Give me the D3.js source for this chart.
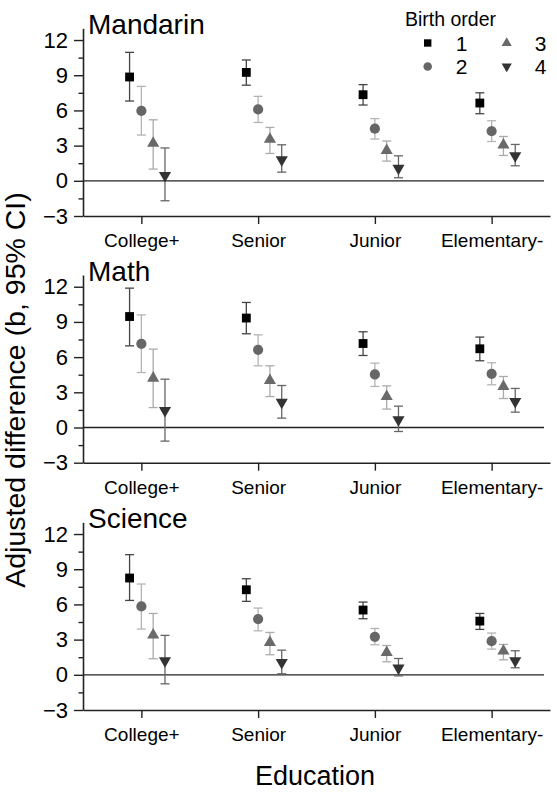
<!DOCTYPE html>
<html>
<head>
<meta charset="utf-8">
<script src="https://cdn.jsdelivr.net/npm/d3@7"></script>
<style>
  body { margin: 0; background: #fff; }
  svg { font-family: "Liberation Sans", Arial, sans-serif; }
</style>
</head>
<body>
<svg id="chart"></svg>
<script>
// data
const subjects = ["Mandarin", "Math", "Science"];
const categories = ["College+", "Senior", "Junior", "Elementary-"];
const birthOrders = ["1", "2", "3", "4"];
const yTicks = [-3, 0, 3, 6, 9, 12];
const yMinorTicks = [-1.5, 1.5, 4.5, 7.5, 10.5];

// rows = birth order 1..4, columns = categories
const mandarinB = [[8.85, 9.24, 7.34, 6.63], [5.97, 6.08, 4.44, 4.24], [3.2, 3.55, 2.59, 3.05], [0.45, 1.8, 1.08, 2.13]];
const mandarinLo = [[6.8, 8.15, 6.46, 5.72], [3.9, 4.97, 3.56, 3.35], [1.0, 2.33, 1.68, 2.16], [-1.7, 0.74, 0.26, 1.28]];
const mandarinHi = [[10.95, 10.3, 8.2, 7.5], [8.05, 7.2, 5.3, 5.12], [5.2, 4.55, 3.39, 3.78], [2.8, 3.07, 2.13, 3.1]];

const mathB = [[9.46, 9.33, 7.16, 6.71], [7.13, 6.62, 4.52, 4.58], [4.21, 4.0, 2.64, 3.5], [1.45, 2.16, 0.66, 2.22]];
const mathLo = [[6.96, 7.99, 6.14, 5.69], [4.69, 5.26, 3.5, 3.64], [1.7, 2.64, 1.57, 2.47], [-1.16, 0.8, -0.34, 1.31]];
const mathHi = [[11.88, 10.66, 8.16, 7.71], [9.6, 7.9, 5.49, 5.52], [6.68, 5.26, 3.55, 4.35], [4.12, 3.58, 1.82, 3.33]];

const scienceB = [[8.25, 7.25, 5.52, 4.58], [5.83, 4.75, 3.24, 2.87], [3.39, 2.76, 1.9, 2.02], [1.19, 1.05, 0.57, 1.19]];
const scienceLo = [[6.34, 6.26, 4.78, 3.87], [3.9, 3.75, 2.56, 2.19], [1.37, 1.71, 1.11, 1.28], [-0.77, 0.09, -0.09, 0.6]];
const scienceHi = [[10.24, 8.19, 6.2, 5.23], [7.74, 5.69, 3.95, 3.56], [5.23, 3.61, 2.5, 2.59], [3.36, 2.1, 1.39, 2.05]];

const panels = [
  { name: subjects[0], b: mandarinB, lo: mandarinLo, hi: mandarinHi },
  { name: subjects[1], b: mathB, lo: mathLo, hi: mathHi },
  { name: subjects[2], b: scienceB, lo: scienceLo, hi: scienceHi },
];

const width = 557, height = 796;
const panelTop = [28.3, 275, 522.3];
const panelH = 187.7;

const markerFill = ["#000", "#666", "#6a6a6a", "#333"];
const barColor = ["#444", "#b4b4b4", "#ababab", "#666"];
const symbols = [
  { type: d3.symbolSquare, size: 78, rot: 0 },
  { type: d3.symbolCircle, size: 82, rot: 0 },
  { type: d3.symbolTriangle, size: 64, rot: 0 },
  { type: d3.symbolTriangle, size: 64, rot: 180 },
];

const svg = d3.select("#chart").attr("width", width).attr("height", height);

const x = d3.scalePoint().domain(categories).range([83, 550]).padding(0.5);
// small offset of each birth order around the category tick
const dx = d3.scaleLinear().domain([0, 3]).range([-11.8, 23.6]);

panels.forEach((p, pi) => {
  const y = d3.scaleLinear().domain([-3, 13]).range([panelTop[pi] + panelH, panelTop[pi]]);
  const g = svg.append("g");

  // zero line
  g.append("line")
    .attr("x1", 83).attr("x2", 544)
    .attr("y1", y(0)).attr("y2", y(0))
    .attr("stroke", "#222").attr("stroke-width", 1.3);

  // y axis
  const yAxis = g.append("g").attr("transform", "translate(83,0)")
    .call(d3.axisLeft(y).tickValues(yTicks).tickSize(9).tickSizeOuter(0).tickPadding(6));
  yAxis.selectAll("text").attr("font-size", 22).attr("fill", "#000").attr("font-family", "Liberation Sans, Arial, sans-serif");
  yAxis.select(".domain").attr("stroke", "#222").attr("stroke-width", 1.6);
  yAxis.selectAll(".tick line").attr("stroke", "#222").attr("stroke-width", 1.4);
  g.append("g").attr("transform", "translate(83,0)")
    .call(d3.axisLeft(y).tickValues(yMinorTicks).tickSize(4.5).tickSizeOuter(0).tickFormat(""))
    .call((s) => s.select(".domain").remove())
    .selectAll(".tick line").attr("stroke", "#222").attr("stroke-width", 1.4);

  // x axis
  const xAxis = g.append("g").attr("transform", `translate(0,${y(-3)})`)
    .call(d3.axisBottom(x).tickSize(8).tickSizeOuter(0).tickPadding(10));
  xAxis.selectAll("text").attr("font-size", 19).attr("fill", "#000").attr("font-family", "Liberation Sans, Arial, sans-serif");
  xAxis.select(".domain").attr("stroke", "#222").attr("stroke-width", 1.6);
  xAxis.selectAll(".tick line").attr("stroke", "#222").attr("stroke-width", 1.4);

  // panel title
  g.append("text")
    .attr("x", 88).attr("y", y(12) - 6)
    .attr("font-size", 28).attr("fill", "#000")
    .text(p.name);

  // error bars, then markers
  birthOrders.forEach((o, si) => {
    const rows = categories.map((c, ci) => ({
      cx: x(c) + dx(si), b: p.b[si][ci], lo: p.lo[si][ci], hi: p.hi[si][ci],
    }));
    const eb = g.append("g").attr("stroke", barColor[si]).attr("stroke-width", 1.3).attr("fill", "none");
    eb.selectAll(".v").data(rows).enter().append("line")
      .attr("x1", (d) => d.cx).attr("x2", (d) => d.cx)
      .attr("y1", (d) => y(d.lo)).attr("y2", (d) => y(d.hi));
    eb.selectAll(".t").data(rows).enter().append("line")
      .attr("x1", (d) => d.cx - 4.5).attr("x2", (d) => d.cx + 4.5)
      .attr("y1", (d) => y(d.hi)).attr("y2", (d) => y(d.hi));
    eb.selectAll(".bt").data(rows).enter().append("line")
      .attr("x1", (d) => d.cx - 4.5).attr("x2", (d) => d.cx + 4.5)
      .attr("y1", (d) => y(d.lo)).attr("y2", (d) => y(d.lo));

    const sym = d3.symbol().type(symbols[si].type).size(symbols[si].size);
    g.selectAll(".m" + si).data(rows).enter().append("path")
      .attr("d", sym)
      .attr("transform", (d) => `translate(${d.cx},${y(d.b)}) rotate(${symbols[si].rot})`)
      .attr("fill", markerFill[si]);
  });
});

// legend
const legend = svg.append("g");
legend.append("text").attr("x", 405).attr("y", 26).attr("font-size", 19.5).attr("fill", "#000").text("Birth order");
birthOrders.forEach((o, si) => {
  const col = si < 2 ? 0 : 1;
  const row = si % 2;
  const sx = 427.7 + col * 79;
  const sy = 43 + row * 23.5;
  const sym = d3.symbol().type(symbols[si].type).size(symbols[si].size * 0.7);
  legend.append("path").attr("d", sym)
    .attr("transform", `translate(${sx},${sy}) rotate(${symbols[si].rot})`)
    .attr("fill", markerFill[si]);
  legend.append("text").attr("x", sx + 34).attr("y", sy).attr("dy", "0.36em")
    .attr("text-anchor", "middle").attr("font-size", 21).attr("fill", "#000").text(o);
});

// axis titles
svg.append("text")
  .attr("transform", "translate(25,390) rotate(-90)")
  .attr("text-anchor", "middle").attr("font-size", 28.5).attr("fill", "#000")
  .text("Adjusted difference (b, 95% CI)");
svg.append("text")
  .attr("x", 315).attr("y", 785)
  .attr("text-anchor", "middle").attr("font-size", 27).attr("fill", "#000")
  .text("Education");
</script>
</body>
</html>
